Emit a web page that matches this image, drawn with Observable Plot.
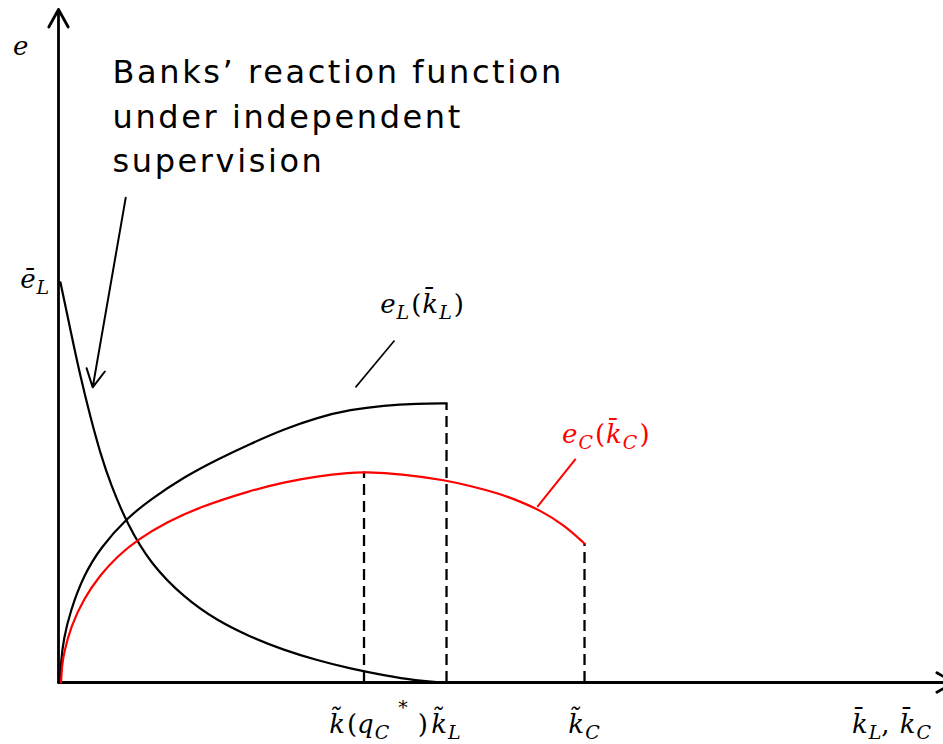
<!DOCTYPE html>
<html>
<head>
<meta charset="utf-8">
<script src="https://cdn.jsdelivr.net/npm/d3@7"></script>
<script src="https://cdn.jsdelivr.net/npm/@observablehq/plot@0.6"></script>
<style>
  html, body { margin: 0; padding: 0; background: #fff; }
  #chart svg { display: block; }
</style>
</head>
<body>
<div id="chart"></div>
<script>
// Banks' reaction function (decreasing in k̄)
const reactionX = [0.033, 0.2, 0.367, 0.533, 0.7, 0.867, 1.145, 1.533, 2.088, 2.645, 3.2, 3.755, 4.312, 4.867, 5.422, 5.978, 6.367];
const reactionY = [6.67, 5.87, 5.09, 4.42, 3.81, 3.31, 2.64, 1.98, 1.42, 1.03, 0.76, 0.54, 0.37, 0.23, 0.12, 0.03, 0.0];

// Effort of the local supervisor, e_L(k̄_L)
const eLX = [0.025, 0.042, 0.083, 0.2, 0.417, 0.7, 1.15, 1.533, 2.083, 2.65, 3.2, 3.75, 4.317, 4.867, 5.417, 5.983, 6.467];
const eLY = [0.0, 0.35, 0.72, 1.2, 1.78, 2.25, 2.75, 3.05, 3.42, 3.72, 3.98, 4.22, 4.42, 4.55, 4.62, 4.65, 4.655];

// Effort of the central supervisor, e_C(k̄_C)
const eCX = [0.042, 0.058, 0.088, 0.2, 0.422, 0.7, 0.978, 1.312, 1.812, 2.367, 3.2, 3.755, 4.312, 4.867, 5.092, 5.7, 6.478, 6.867, 7.317, 7.7, 8.033, 8.417, 8.767];
const eCY = [0.0, 0.28, 0.48, 0.92, 1.4, 1.8, 2.1, 2.38, 2.68, 2.93, 3.2, 3.34, 3.44, 3.5, 3.51, 3.48, 3.37, 3.275, 3.158, 3.017, 2.867, 2.633, 2.317];

// Text of the annotation
const noteLines = ["Banks’ reaction function", "under independent", "supervision"];

const xMax = 14.75, yMax = 11.37;

const reaction = reactionX.map((x, i) => ({x, y: reactionY[i]}));
const eL = eLX.map((x, i) => ({x, y: eLY[i]}));
const eC = eCX.map((x, i) => ({x, y: eCY[i]}));

// Critical points on the horizontal axis: k̃(q_C*), k̃_L, k̃_C
const peakC = eCY.indexOf(d3.max(eCY));
const drops = [
  {x: eCX[peakC], y: eCY[peakC]},
  {x: eLX[eLX.length - 1], y: eLY[eLY.length - 1]},
  {x: eCX[eCX.length - 1], y: eCY[eCY.length - 1]}
];

const plot = Plot.plot({
  width: 943,
  height: 744,
  marginLeft: 58,
  marginRight: 0,
  marginTop: 0,
  marginBottom: 62,
  x: {domain: [0, xMax], axis: null},
  y: {domain: [0, yMax], axis: null},
  style: {background: "white", overflow: "visible"},
  marks: [
    // axes with open arrowheads
    Plot.arrow([{x1: 0, y1: 0, x2: 0, y2: 11.22}, {x1: 0, y1: 0, x2: 14.93, y2: 0}], {
      x1: "x1", y1: "y1", x2: "x2", y2: "y2",
      stroke: "black", strokeWidth: 2.8, headLength: 10.7, headAngle: 58, clip: false
    }),
    // dashed drop lines
    Plot.ruleX(drops, {x: "x", y1: 0, y2: "y", stroke: "black", strokeWidth: 2.3, strokeDasharray: "11,6"}),
    Plot.line(reaction, {x: "x", y: "y", curve: "basis", stroke: "black", strokeWidth: 2.2}),
    Plot.line(eL, {x: "x", y: "y", curve: "basis", stroke: "black", strokeWidth: 2.2}),
    Plot.line(eC, {x: "x", y: "y", curve: "basis", stroke: "#ff0000", strokeWidth: 2.2}),
    // leader lines to curve labels
    Plot.link([{x1: 4.95, y1: 4.92, x2: 5.6, y2: 5.7}], {
      x1: "x1", y1: "y1", x2: "x2", y2: "y2", stroke: "black", strokeWidth: 1.6
    }),
    Plot.link([{x1: 7.98, y1: 2.93, x2: 8.62, y2: 3.73}], {
      x1: "x1", y1: "y1", x2: "x2", y2: "y2", stroke: "#ff0000", strokeWidth: 2
    }),
    // pointer to the reaction function
    Plot.arrow([{x1: 1.12, y1: 8.08, x2: 0.57, y2: 4.92}], {
      x1: "x1", y1: "y1", x2: "x2", y2: "y2",
      stroke: "black", strokeWidth: 2, headLength: 15, headAngle: 55
    }),
    Plot.text([noteLines.join("\n")], {
      x: 0.9, y: 10.52, text: d => d, textAnchor: "start", lineAnchor: "top",
      lineHeight: 1.39, fontSize: 32, fontFamily: "DejaVu Sans", fill: "black"
    })
  ]
});

document.getElementById("chart").appendChild(plot);

const svg = d3.select(plot);
svg.selectAll('g[aria-label="text"] text').attr("letter-spacing", "2.6px");

// Math labels with sub- and superscripts, placed through the plot's scales
const sx = plot.scale("x"), sy = plot.scale("y");
const SHIFT = {sub: 6, sup: -19};

function mathText(x, y, parts, {fill = "black", anchor = "start", dx = 0} = {}) {
  const t = svg.append("text")
    .attr("x", sx.apply(x) + dx)
    .attr("y", sy.apply(y))
    .attr("text-anchor", anchor)
    .attr("fill", fill)
    .attr("font-family", "'DejaVu Serif', serif")
    .attr("font-size", 26);
  let prev = 0;
  for (const [s, kind = "", gap = 0] of parts) {
    const shift = SHIFT[kind] || 0;
    t.append("tspan")
      .attr("dy", shift - prev)
      .attr("dx", gap)
      .attr("font-size", kind === "sub" || kind === "sup" ? 19 : 26)
      .attr("font-style", kind === "up" ? "normal" : "italic")
      .text(s);
    prev = shift;
  }
}

mathText(-0.75, 10.45, [["e"]]);
mathText(-0.63, 6.57, [["\u0113"], ["L", "sub", 1]]);
mathText(5.37, 6.15, [["e"], ["L", "sub", 1], ["(", "up", 2], ["k\u0304", "", 1], ["L", "sub", 1], [")", "up", 2]]);
mathText(8.4, 3.98, [["e"], ["C", "sub", 1], ["(", "up", 2], ["k\u0304", "", 1], ["C", "sub", 1], [")", "up", 2]], {fill: "#ff0000"});

mathText(drops[0].x, -0.85, [["k\u0303"], ["(", "up", 2], ["q"], ["C", "sub", 1], ["*", "sup", 9], [")", "up", 10]], {anchor: "middle", dx: 15});
mathText(drops[1].x, -0.85, [["k\u0303"], ["L", "sub", 1]], {anchor: "middle"});
mathText(drops[2].x, -0.85, [["k\u0303"], ["C", "sub", 1]], {anchor: "middle"});
mathText(13.233, -0.85, [["k\u0304"], ["L", "sub", 1], [",", "up"], ["k\u0304", "", 10], ["C", "sub", 1]]);
</script>
</body>
</html>
